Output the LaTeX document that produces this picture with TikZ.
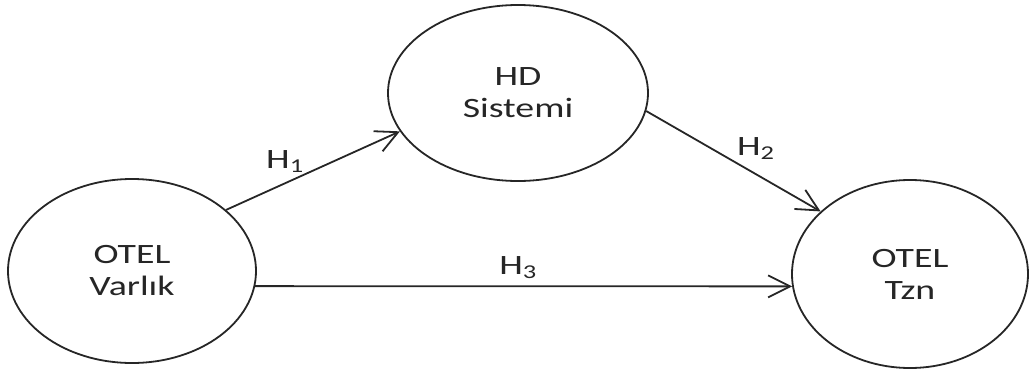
\documentclass[tikz,border=0pt]{standalone}
\usepackage{fontspec}
\setmainfont[FakeStretch=1.35]{Carlito}
\usetikzlibrary{
  arrows.meta,
  shapes.geometric
}
\definecolor{Ink}{HTML}{262626}
\newcommand{\diagramnodefont}{\fontsize{14}{16}\selectfont}
\newcommand{\diagramlabelfont}{\fontsize{14}{16}\selectfont}
\tikzset{
  % Global typography and reusable construct geometry.
  every node/.style={font=\diagramnodefont, text=Ink},
  construct/.style={
    draw=Ink,
    ellipse,
    line width=0.9pt,
    inner sep=0pt,
    align=center,
    minimum width=#1
  },
  path flow/.style={
    -{Straight Barb[length=11pt,width=11pt]},
    draw=Ink,
    line width=0.9pt
  },
  hypothesis label/.style={
    font=\diagramlabelfont,
    inner sep=0pt
  }
}

\begin{document}
\begin{tikzpicture}[x=0.5pt,y=-0.5pt]
\useasboundingbox (0,0) rectangle (1030,370);

% ---------------------------------------------------------------------------
% Constructs
% ---------------------------------------------------------------------------
\node[construct=124pt, minimum height=92pt] (otelVarlik) at (132,271)
  {OTEL\\Varlık};
\node[construct=130pt, minimum height=88pt] (hdSistemi) at (518,93)
  {HD\\Sistemi};
\node[construct=118pt, minimum height=94pt] (otelTzn) at (910,274)
  {OTEL\\Tzn};

% ---------------------------------------------------------------------------
% Hypothesised paths
% ---------------------------------------------------------------------------
\draw[path flow] (otelVarlik.33) --
  node[hypothesis label, pos=0.34, yshift=11pt] {H\textsubscript{1}}
  (hdSistemi.198);

\draw[path flow] (hdSistemi.-8.5) --
  node[hypothesis label, pos=0.63, yshift=13pt] {H\textsubscript{2}}
  (otelTzn.145);

\draw[path flow] (otelVarlik.-7.5) --
  node[hypothesis label, pos=0.49, yshift=9.5pt] {H\textsubscript{3}}
  (otelTzn.186.3);

\end{tikzpicture}
\end{document}
